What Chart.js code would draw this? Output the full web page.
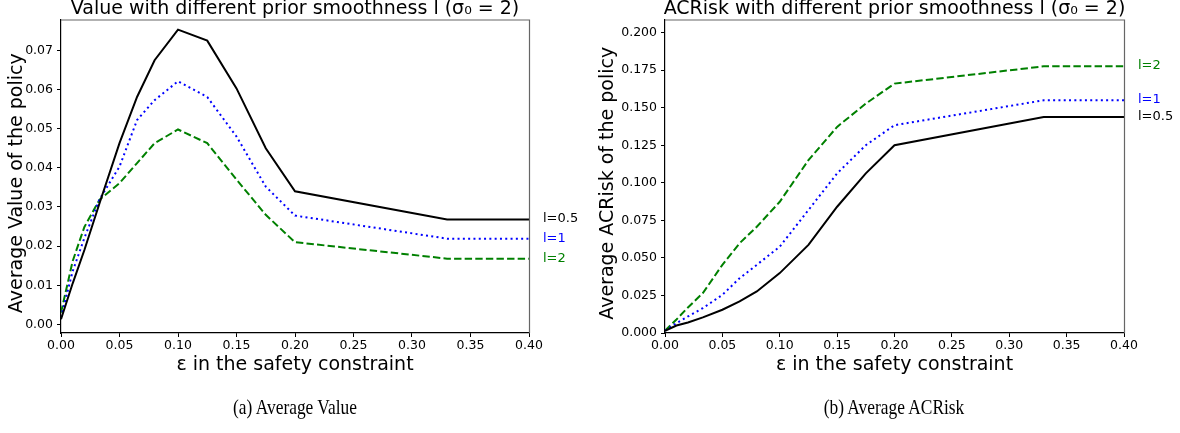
<!DOCTYPE html>
<html>
<head>
<meta charset="utf-8">
<script src="https://cdn.jsdelivr.net/npm/chart.js@4"></script>
<style>
  body { margin: 0; background: #fff; width: 1180px; height: 433px; overflow: hidden; position: relative; }
  canvas { position: absolute; top: 0; }
  .cap { position: absolute; top: 394px; font-family: "Liberation Serif", serif; font-size: 22px; color: #000;
         width: 300px; text-align: center; transform: scaleX(0.79); }
</style>
</head>
<body>
<canvas id="valueChart" width="590" height="433" style="left:0"></canvas>
<canvas id="riskChart" width="590" height="433" style="left:590px"></canvas>
<div class="cap" style="left:145px">(a) Average Value</div>
<div class="cap" style="left:744px">(b) Average ACRisk</div>
<script>
// epsilon values (x) shared by both panels
const eps = [0, 0.01, 0.02, 0.033, 0.05, 0.065, 0.08, 0.1, 0.125, 0.15, 0.175, 0.2, 0.33, 0.4];

// (a) average value
const valueL05 = [0.0013, 0.0105, 0.019, 0.031, 0.0463, 0.0581, 0.0675, 0.0753, 0.0725, 0.0603, 0.045, 0.034, 0.0268, 0.0268];
const valueL1  = [0.0018, 0.0136, 0.0221, 0.032, 0.0403, 0.0522, 0.0573, 0.0621, 0.0581, 0.048, 0.0352, 0.0278, 0.0219, 0.0219];
const valueL2  = [0.003, 0.0162, 0.0249, 0.0319, 0.0361, 0.0412, 0.0463, 0.0498, 0.0463, 0.037, 0.028, 0.021, 0.0168, 0.0168];

// (b) average ACRisk
const riskL05 = [0.0015, 0.005, 0.007, 0.0104, 0.0155, 0.021, 0.0277, 0.0399, 0.0587, 0.0841, 0.1063, 0.1251, 0.1439, 0.1439];
const riskL1  = [0.0015, 0.0066, 0.011, 0.0166, 0.0254, 0.0365, 0.0454, 0.0575, 0.0819, 0.1063, 0.1251, 0.1384, 0.155, 0.155];
const riskL2  = [0.0015, 0.009, 0.017, 0.0266, 0.0454, 0.0598, 0.0708, 0.0874, 0.1151, 0.1373, 0.1528, 0.1661, 0.1776, 0.1776];

const seriesNames = ['l=0.5', 'l=1', 'l=2'];
const xTicks = [0, 0.05, 0.1, 0.15, 0.2, 0.25, 0.3, 0.35, 0.4];
const valueTicks = [0, 0.01, 0.02, 0.03, 0.04, 0.05, 0.06, 0.07];
const riskTicks = [0, 0.025, 0.05, 0.075, 0.1, 0.125, 0.15, 0.175, 0.2];

const FONT = 'DejaVu Sans';

const styles = [
  { color: '#000000', dash: [] },
  { color: '#0000ff', dash: [2, 3.3] },
  { color: '#008000', dash: [7.4, 3.2] }
];

function makeSets(arrs) {
  return arrs.map((arr, i) => ({
    label: seriesNames[i],
    data: eps.map((x, j) => ({ x: x, y: arr[j] })),
    borderColor: styles[i].color,
    borderDash: styles[i].dash,
    borderWidth: 2,
    pointRadius: 0,
    showLine: true,
    fill: false,
    tension: 0
  }));
}

// box, titles and labels at the line ends
const framePlugin = {
  id: 'frame',
  afterDatasetsDraw(chart, args, opts) {
    const { ctx, chartArea: a } = chart;
    ctx.save();
    ctx.strokeStyle = '#666';
    ctx.lineWidth = 1.2;
    ctx.beginPath();
    ctx.moveTo(a.left, a.top + 0.5);
    ctx.lineTo(a.right + 0.5, a.top + 0.5);
    ctx.lineTo(a.right + 0.5, a.bottom);
    ctx.stroke();

    ctx.fillStyle = '#000';
    ctx.textAlign = 'center';
    ctx.textBaseline = 'middle';
    ctx.font = '19px ' + FONT;
    ctx.fillText(opts.title, (a.left + a.right) / 2, 9.5);

    ctx.save();
    ctx.translate(opts.yTitleX, (a.top + a.bottom) / 2 + 7);
    ctx.rotate(-Math.PI / 2);
    ctx.fillText(opts.yTitle, 0, 0);
    ctx.restore();

    ctx.font = '13px ' + FONT;
    ctx.textAlign = 'left';
    chart.data.datasets.forEach((ds, i) => {
      const pts = chart.getDatasetMeta(i).data;
      const last = pts[pts.length - 1];
      ctx.fillStyle = ds.borderColor;
      ctx.fillText(ds.label, a.right + 14, last.y - 0.5);
    });
    ctx.restore();
  }
};

function makeChart(id, title, yTitle, yTitleX, sets, yMin, yMax, yTicks, decimals, yWidth, padRight) {
  return new Chart(document.getElementById(id), {
    type: 'scatter',
    data: { datasets: sets },
    plugins: [framePlugin],
    options: {
      responsive: false,
      animation: false,
      layout: { padding: { left: 0, right: padRight, top: 19.5, bottom: 55 } },
      plugins: {
        legend: { display: false },
        tooltip: { enabled: false },
        title: { display: false },
        frame: { title: title, yTitle: yTitle, yTitleX: yTitleX }
      },
      scales: {
        x: {
          type: 'linear',
          min: 0, max: 0.4,
          afterBuildTicks: s => { s.ticks = xTicks.map(v => ({ value: v })); },
          afterFit: s => { s.height = 45; },
          ticks: { color: '#000', font: { family: FONT, size: 12.5 }, padding: 1,
                   maxRotation: 0, autoSkip: false, callback: v => v.toFixed(2) },
          grid: { drawOnChartArea: false, drawTicks: true, tickLength: 4, color: '#000' },
          border: { display: true, color: '#000', width: 1.2 },
          title: { display: true, text: 'ε in the safety constraint', color: '#000',
                   font: { family: FONT, size: 19 }, padding: { top: 0, bottom: 1.6 } }
        },
        y: {
          type: 'linear',
          min: yMin, max: yMax,
          afterBuildTicks: s => { s.ticks = yTicks.map(v => ({ value: v })); },
          afterFit: s => { s.width = yWidth; },
          ticks: { color: '#000', font: { family: FONT, size: 12.5 }, padding: 4,
                   autoSkip: false, callback: v => v.toFixed(decimals) },
          grid: { drawOnChartArea: false, drawTicks: true, tickLength: 4, color: '#000' },
          border: { display: true, color: '#000', width: 1.2 }
        }
      }
    }
  });
}

makeChart('valueChart', 'Value with different prior smoothness l (σ₀ = 2)', 'Average Value of the policy', 17,
  makeSets([valueL05, valueL1, valueL2]), -0.0022, 0.0779, valueTicks, 2, 61, 61);

makeChart('riskChart', 'ACRisk with different prior smoothness l (σ₀ = 2)', 'Average ACRisk of the policy', 18,
  makeSets([riskL05, riskL1, riskL2]), 0, 0.2088, riskTicks, 3, 75, 56);
</script>
</body>
</html>
